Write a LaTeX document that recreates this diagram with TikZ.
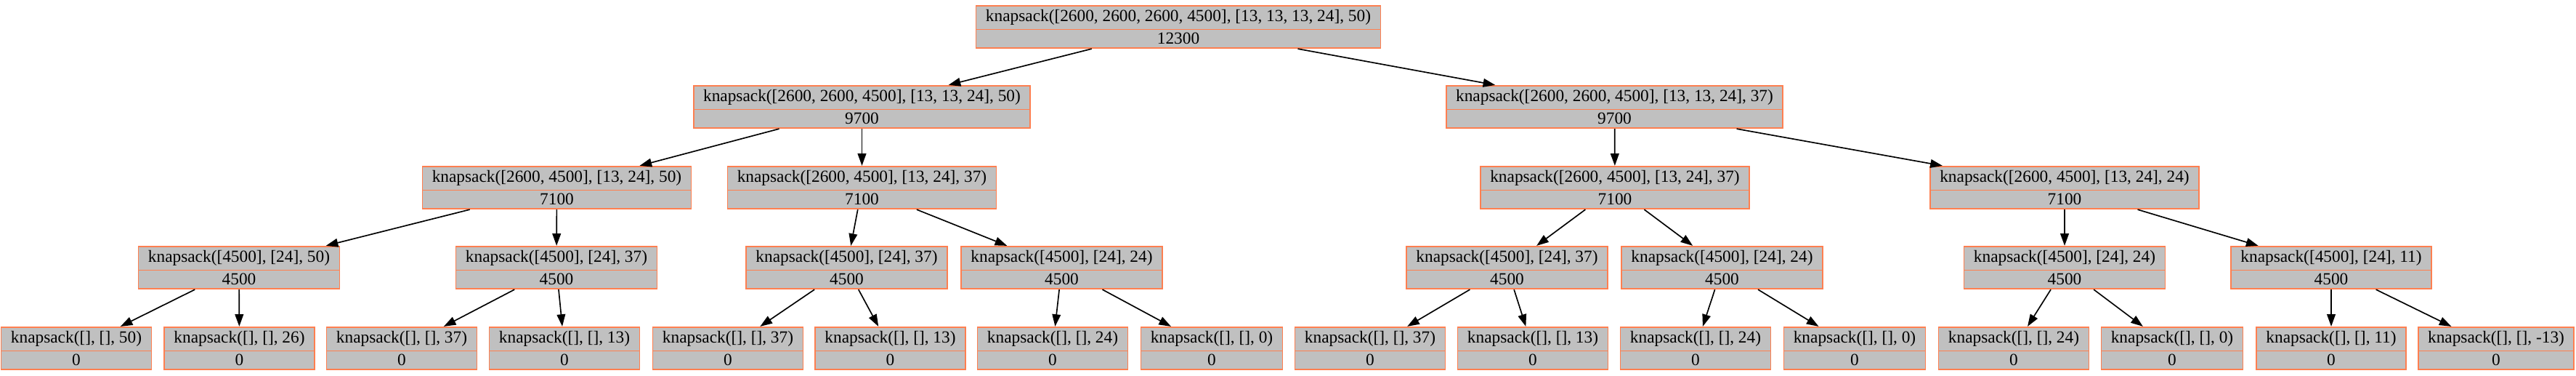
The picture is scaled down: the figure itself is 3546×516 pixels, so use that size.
\documentclass[tikz,border=0pt]{standalone}
\usepackage{fontspec}
\setmainfont{Liberation Serif}
\usepackage{xcolor}
\usepackage{tikz}
\usetikzlibrary{arrows.meta,shapes.multipart}
\definecolor{coral}{RGB}{255,127,80}
\definecolor{boxgray}{RGB}{192,192,192}

\begin{document}
\begin{tikzpicture}[
  x=0.6pt, y=0.6pt,
  rec/.style={rectangle split, rectangle split parts=2, draw=coral, fill=boxgray,
    line width=1pt, font=\fontsize{14}{16}\selectfont,
    text height=10pt, text depth=3.5pt, inner xsep=8pt, inner ysep=2.55pt},
  arrow/.style={-{Triangle[length=10pt, width=7pt]}, line width=1pt}
]
\useasboundingbox (0,0) rectangle (3546,-516);

% level 0 and 1
\node[rec] (r) at (1622,-37) {knapsack([2600, 2600, 2600, 4500], [13, 13, 13, 24], 50)\nodepart{two}12300};
\node[rec] (rl) at (1186.5,-147) {knapsack([2600, 2600, 4500], [13, 13, 24], 50)\nodepart{two}9700};
\node[rec] (rr) at (2222.5,-147) {knapsack([2600, 2600, 4500], [13, 13, 24], 37)\nodepart{two}9700};

% level 2
\node[rec] (rll) at (766.5,-258) {knapsack([2600, 4500], [13, 24], 50)\nodepart{two}7100};
\node[rec] (rlr) at (1186.5,-258) {knapsack([2600, 4500], [13, 24], 37)\nodepart{two}7100};
\node[rec] (rrl) at (2223,-258) {knapsack([2600, 4500], [13, 24], 37)\nodepart{two}7100};
\node[rec] (rrr) at (2842,-258) {knapsack([2600, 4500], [13, 24], 24)\nodepart{two}7100};

% level 3
\node[rec] (rlll) at (329,-368) {knapsack([4500], [24], 50)\nodepart{two}4500};
\node[rec] (rllr) at (766,-368) {knapsack([4500], [24], 37)\nodepart{two}4500};
\node[rec] (rlrl) at (1165.5,-368) {knapsack([4500], [24], 37)\nodepart{two}4500};
\node[rec] (rlrr) at (1461.5,-368) {knapsack([4500], [24], 24)\nodepart{two}4500};
\node[rec] (rrll) at (2074.5,-368) {knapsack([4500], [24], 37)\nodepart{two}4500};
\node[rec] (rrlr) at (2370.5,-368) {knapsack([4500], [24], 24)\nodepart{two}4500};
\node[rec] (rrrl) at (2842,-368) {knapsack([4500], [24], 24)\nodepart{two}4500};
\node[rec] (rrrr) at (3209,-368) {knapsack([4500], [24], 11)\nodepart{two}4500};

% leaves
\node[rec] (rllll) at (105,-479) {knapsack([], [], 50)\nodepart{two}0};
\node[rec] (rlllr) at (329.5,-479) {knapsack([], [], 26)\nodepart{two}0};
\node[rec] (rllrl) at (553,-479) {knapsack([], [], 37)\nodepart{two}0};
\node[rec] (rllrr) at (777,-479) {knapsack([], [], 13)\nodepart{two}0};
\node[rec] (rlrll) at (1002,-479) {knapsack([], [], 37)\nodepart{two}0};
\node[rec] (rlrlr) at (1225.5,-479) {knapsack([], [], 13)\nodepart{two}0};
\node[rec] (rlrrl) at (1449,-479) {knapsack([], [], 24)\nodepart{two}0};
\node[rec] (rlrrr) at (1668,-479) {knapsack([], [], 0)\nodepart{two}0};
\node[rec] (rrlll) at (1886,-479) {knapsack([], [], 37)\nodepart{two}0};
\node[rec] (rrllr) at (2110,-479) {knapsack([], [], 13)\nodepart{two}0};
\node[rec] (rrlrl) at (2334,-479) {knapsack([], [], 24)\nodepart{two}0};
\node[rec] (rrlrr) at (2553,-479) {knapsack([], [], 0)\nodepart{two}0};
\node[rec] (rrrll) at (2772,-479) {knapsack([], [], 24)\nodepart{two}0};
\node[rec] (rrrlr) at (2990,-479) {knapsack([], [], 0)\nodepart{two}0};
\node[rec] (rrrrl) at (3209,-479) {knapsack([], [], 11)\nodepart{two}0};
\node[rec] (rrrrr) at (3436,-479) {knapsack([], [], -13)\nodepart{two}0};

\draw[arrow] (r) -- (rl);
\draw[arrow] (r) -- (rr);
\draw[arrow] (rl) -- (rll);
\draw[arrow] (rl) -- (rlr);
\draw[arrow] (rr) -- (rrl);
\draw[arrow] (rr) -- (rrr);
\draw[arrow] (rll) -- (rlll);
\draw[arrow] (rll) -- (rllr);
\draw[arrow] (rlr) -- (rlrl);
\draw[arrow] (rlr) -- (rlrr);
\draw[arrow] (rrl) -- (rrll);
\draw[arrow] (rrl) -- (rrlr);
\draw[arrow] (rrr) -- (rrrl);
\draw[arrow] (rrr) -- (rrrr);
\draw[arrow] (rlll) -- (rllll);
\draw[arrow] (rlll) -- (rlllr);
\draw[arrow] (rllr) -- (rllrl);
\draw[arrow] (rllr) -- (rllrr);
\draw[arrow] (rlrl) -- (rlrll);
\draw[arrow] (rlrl) -- (rlrlr);
\draw[arrow] (rlrr) -- (rlrrl);
\draw[arrow] (rlrr) -- (rlrrr);
\draw[arrow] (rrll) -- (rrlll);
\draw[arrow] (rrll) -- (rrllr);
\draw[arrow] (rrlr) -- (rrlrl);
\draw[arrow] (rrlr) -- (rrlrr);
\draw[arrow] (rrrl) -- (rrrll);
\draw[arrow] (rrrl) -- (rrrlr);
\draw[arrow] (rrrr) -- (rrrrl);
\draw[arrow] (rrrr) -- (rrrrr);
\end{tikzpicture}
\end{document}
